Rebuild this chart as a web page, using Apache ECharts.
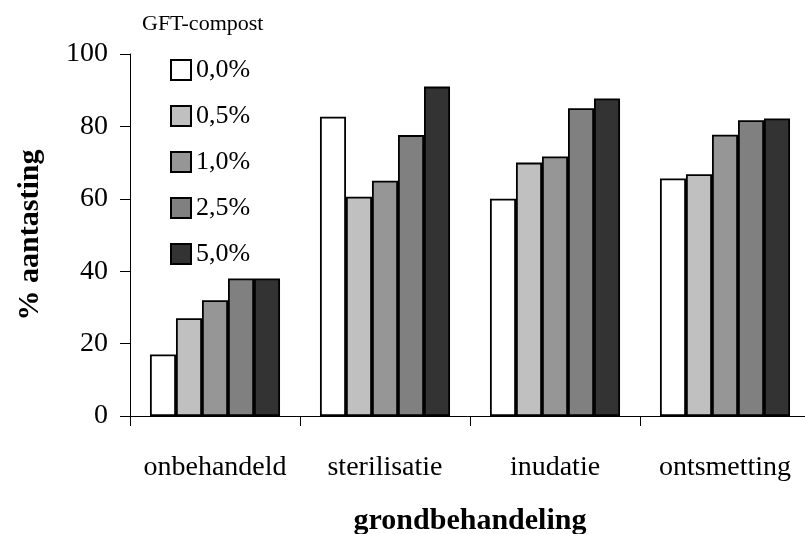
<!DOCTYPE html>
<html>
<head>
<meta charset="utf-8">
<script src="https://cdn.jsdelivr.net/npm/echarts@6/dist/echarts.min.js"></script>
<style>html,body{margin:0;padding:0;background:#fff}#c{width:805px;height:534px}</style>
</head>
<body>
<div id="c"></div>
<script>
var categories = ['onbehandeld', 'sterilisatie', 'inudatie', 'ontsmetting'];
var seriesNames = ['0,0%', '0,5%', '1,0%', '2,5%', '5,0%'];
var s00 = [17, 82.7, 60, 65.6];
var s05 = [27, 60.6, 70, 66.8];
var s10 = [32, 65, 71.7, 77.7];
var s25 = [38, 77.6, 85, 81.7];
var s50 = [38, 91, 87.7, 82.2];
var yTicks = [0, 20, 40, 60, 80, 100];
var colors = ['#ffffff', '#c0c0c0', '#969696', '#808080', '#333333'];

var values = [s00, s05, s10, s25, s50];
var FONT = '"Liberation Serif", "Times New Roman", serif';

var chart = echarts.init(document.getElementById('c'), null, {renderer: 'canvas'});
chart.setOption({
  animation: false,
  backgroundColor: '#ffffff',
  textStyle: {fontFamily: FONT, color: '#000'},
  title: {
    text: 'GFT-compost',
    left: 137, top: 8,
    textStyle: {fontFamily: FONT, fontSize: 22, fontWeight: 'normal', color: '#000'}
  },
  legend: {
    orient: 'vertical',
    left: 170, top: 57,
    padding: 0,
    itemWidth: 20, itemHeight: 20,
    itemGap: 20,
    icon: 'rect',
    data: seriesNames,
    textStyle: {fontFamily: FONT, fontSize: 26, color: '#000'}
  },
  grid: {left: 130, right: -5, top: 54, bottom: 118, outerBoundsMode: 'none', containLabel: false},
  xAxis: {
    type: 'category',
    data: categories,
    name: 'grondbehandeling',
    nameLocation: 'middle',
    nameGap: 90,
    nameTextStyle: {fontFamily: FONT, fontSize: 30, fontWeight: 'bold', color: '#000'},
    axisLine: {lineStyle: {color: '#000', width: 1}},
    axisTick: {show: true, inside: false, length: 10, interval: 0, lineStyle: {color: '#000'}},
    axisLabel: {fontFamily: FONT, fontSize: 28, color: '#000', margin: 38, interval: 0}
  },
  yAxis: {
    type: 'value',
    min: yTicks[0], max: yTicks[yTicks.length - 1], interval: 20,
    name: '% aantasting',
    nameLocation: 'middle',
    nameGap: 85,
    nameRotate: 90,
    nameTextStyle: {fontFamily: FONT, fontSize: 30, fontWeight: 'bold', color: '#000'},
    axisLine: {show: true, lineStyle: {color: '#000', width: 1}},
    axisTick: {show: true, length: 10, lineStyle: {color: '#000'}},
    splitLine: {show: false},
    axisLabel: {fontFamily: FONT, fontSize: 28, color: '#000', margin: 22}
  },
  series: seriesNames.map(function (n, i) {
    return {
      name: n,
      type: 'bar',
      data: values[i],
      barGap: '0%',
      barCategoryGap: '23.5%',
      itemStyle: {color: colors[i], borderColor: '#000', borderWidth: 1.8}
    };
  })
});
</script>
</body>
</html>
